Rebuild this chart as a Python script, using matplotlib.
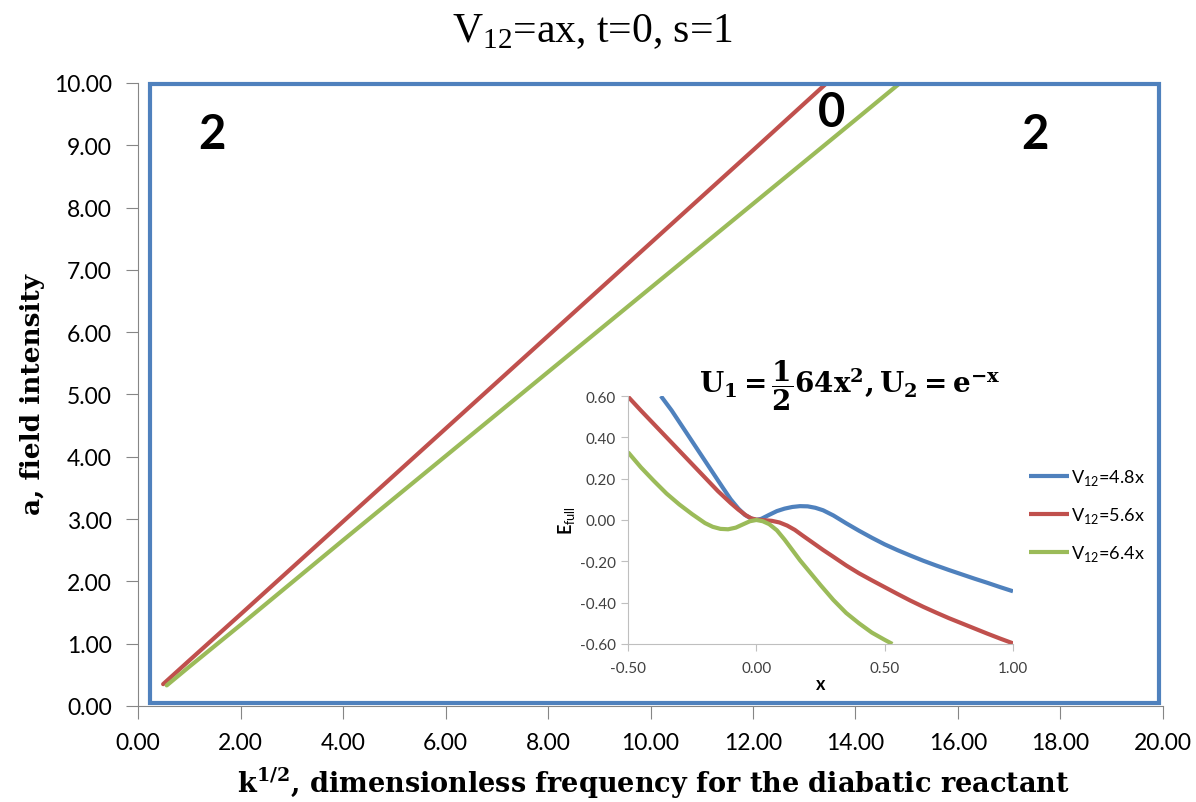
import matplotlib
matplotlib.use("Agg")
import matplotlib.pyplot as plt
from matplotlib.patches import Rectangle

plt.rcParams['mathtext.fontset'] = 'custom'
plt.rcParams['mathtext.rm'] = 'Liberation Serif'
plt.rcParams['mathtext.sf'] = 'Lato'
plt.rcParams['mathtext.bf'] = 'DejaVu Serif:bold'
plt.rcParams['font.family'] = ['Lato', 'DejaVu Sans']

BLUE = '#4F81BD'
RED = '#C0504D'
GREEN = '#9BBB59'
GRAY = '#868686'

# main chart: a vs k^(1/2)
k_red = [0.49, 1.0, 2.0, 4.0, 6.0, 8.0, 10.0, 12.0, 13.44]
a_red = [0.35, 0.73, 1.47, 2.96, 4.45, 5.94, 7.43, 8.92, 10.0]
k_green = [0.56, 1.0, 2.0, 4.0, 6.0, 8.0, 10.0, 12.0, 14.0, 14.87]
a_green = [0.33, 0.63, 1.30, 2.66, 4.01, 5.36, 6.71, 8.06, 9.41, 10.0]

# inset: E_full vs x
x_48 = [-0.372, -0.33, -0.29, -0.25, -0.21, -0.17, -0.13, -0.10, -0.07, -0.045,
        -0.02, 0.0, 0.02, 0.05, 0.08, 0.11, 0.14, 0.17, 0.20, 0.23, 0.26, 0.30,
        0.35, 0.40, 0.45, 0.50, 0.55, 0.60, 0.65, 0.70, 0.75, 0.80, 0.85, 0.90,
        0.95, 1.00]
e_48 = [0.60, 0.53, 0.455, 0.38, 0.305, 0.23, 0.155, 0.10, 0.055, 0.025,
        0.007, 0.0, 0.006, 0.025, 0.043, 0.055, 0.063, 0.067, 0.066, 0.059,
        0.047, 0.022, -0.016, -0.052, -0.086, -0.118, -0.146, -0.172, -0.197,
        -0.22, -0.242, -0.263, -0.284, -0.304, -0.325, -0.345]
x_56 = [-0.5, -0.45, -0.40, -0.35, -0.30, -0.25, -0.20, -0.15, -0.10, -0.07,
        -0.04, -0.02, 0.0, 0.03, 0.06, 0.09, 0.12, 0.15, 0.18, 0.22, 0.26, 0.30,
        0.35, 0.40, 0.45, 0.50, 0.55, 0.60, 0.65, 0.70, 0.75, 0.80, 0.85, 0.90,
        0.95, 1.00]
e_56 = [0.597, 0.53, 0.465, 0.40, 0.335, 0.27, 0.205, 0.14, 0.082, 0.05,
        0.022, 0.008, 0.002, -0.001, -0.004, -0.012, -0.027, -0.048, -0.075,
        -0.11, -0.145, -0.178, -0.22, -0.258, -0.292, -0.325, -0.358, -0.39,
        -0.42, -0.448, -0.475, -0.50, -0.525, -0.55, -0.574, -0.597]
x_64 = [-0.5, -0.45, -0.40, -0.35, -0.30, -0.25, -0.20, -0.17, -0.14, -0.11,
        -0.08, -0.05, -0.025, 0.0, 0.025, 0.05, 0.08, 0.11, 0.14, 0.17, 0.20,
        0.25, 0.30, 0.35, 0.40, 0.45, 0.50, 0.53]
e_64 = [0.328, 0.255, 0.19, 0.128, 0.075, 0.028, -0.015, -0.033, -0.043,
        -0.045, -0.037, -0.02, -0.006, 0.0, -0.006, -0.02, -0.05, -0.095,
        -0.145, -0.195, -0.24, -0.315, -0.387, -0.45, -0.50, -0.545, -0.58, -0.60]
legend_labels = [r'V$_{\mathsf{12}}$=4.8x', r'V$_{\mathsf{12}}$=5.6x', r'V$_{\mathsf{12}}$=6.4x']

fig = plt.figure(figsize=(11.96, 8.03), dpi=100)

ax = fig.add_axes([0.1154, 0.1196, 0.857, 0.7758])
ax.plot(k_red, a_red, color=RED, lw=3, solid_capstyle='round')
ax.plot(k_green, a_green, color=GREEN, lw=3, solid_capstyle='round')
ax.set_xlim(0, 20)
ax.set_ylim(0, 10)
ax.set_xticks(range(0, 21, 2))
ax.set_yticks(range(0, 11))
ax.xaxis.set_major_formatter(lambda v, p: '%.2f' % v)
ax.yaxis.set_major_formatter(lambda v, p: '%.2f' % v)
for s in ['top', 'right']:
    ax.spines[s].set_visible(False)
for s in ['left', 'bottom']:
    ax.spines[s].set_color(GRAY)
ax.tick_params(direction='out', length=9, color=GRAY, labelsize=16.5, pad=10)

ax.text(1.44, 9.18, '2', fontsize=34, fontweight='bold', ha='center', va='center')
ax.text(13.54, 9.53, '0', fontsize=34, fontweight='bold', ha='center', va='center')
ax.text(17.5, 9.18, '2', fontsize=34, fontweight='bold', ha='center', va='center')

fig.patches.append(Rectangle((0.1254, 0.1233), 0.8436, 0.7709, transform=fig.transFigure,
                             fill=False, edgecolor=BLUE, lw=3))

fig.text(0.495, 0.948, r'V$_{\mathrm{12}}$=ax, t=0, s=1', family='Liberation Serif',
         fontsize=30, ha='center', va='baseline')
fig.text(0.546, 0.024, r'k$^{\mathbf{1/2}}$, dimensionless frequency for the diabatic reactant',
         family='DejaVu Serif', fontweight='bold', fontsize=19.5, ha='center', va='center')
fig.text(0.027, 0.509, 'a, field intensity', family='DejaVu Serif', fontweight='bold',
         fontsize=19, rotation=90, ha='center', va='center')

ins = fig.add_axes([0.5251, 0.1968, 0.3219, 0.3088])
ins.set_facecolor('none')
kw = dict(lw=3, solid_joinstyle='round', solid_capstyle='butt')
l1, = ins.plot(x_48, e_48, color=BLUE, **kw)
l2, = ins.plot(x_56, e_56, color=RED, **kw)
l3, = ins.plot(x_64, e_64, color=GREEN, **kw)
ins.set_xlim(-0.5, 1.0)
ins.set_ylim(-0.6, 0.6)
ins.set_xticks([-0.5, 0.0, 0.5, 1.0])
ins.set_yticks([-0.6, -0.4, -0.2, 0.0, 0.2, 0.4, 0.6])
ins.xaxis.set_major_formatter(lambda v, p: '%.2f' % v)
ins.yaxis.set_major_formatter(lambda v, p: '%.2f' % v)
for s in ['top', 'right']:
    ins.spines[s].set_visible(False)
for s in ['left', 'bottom']:
    ins.spines[s].set_color('#BFBFBF')
ins.tick_params(direction='out', length=5, color='#BFBFBF', labelsize=11,
                labelcolor='#404040', pad=4)
ins.tick_params(axis='x', pad=7)
ins.set_xlabel('x', fontsize=13, fontweight='bold', labelpad=0)
ins.set_ylabel(r'E$_{\mathsf{full}}$', fontsize=13, fontweight='bold', labelpad=2)
fig.text(0.7107, 0.5106, r'$\mathbf{U_1=\dfrac{1}{2}64x^2,U_2=e^{-x}}$', fontsize=20,
         ha='center', va='baseline')
ins.legend([l1, l2, l3], legend_labels, loc='center left', bbox_to_anchor=(1.0, 0.52),
           frameon=False, fontsize=13, handlelength=2.2, handletextpad=0.1,
           labelspacing=1.0, borderaxespad=0.5)

fig.savefig('out.png', dpi=100)
